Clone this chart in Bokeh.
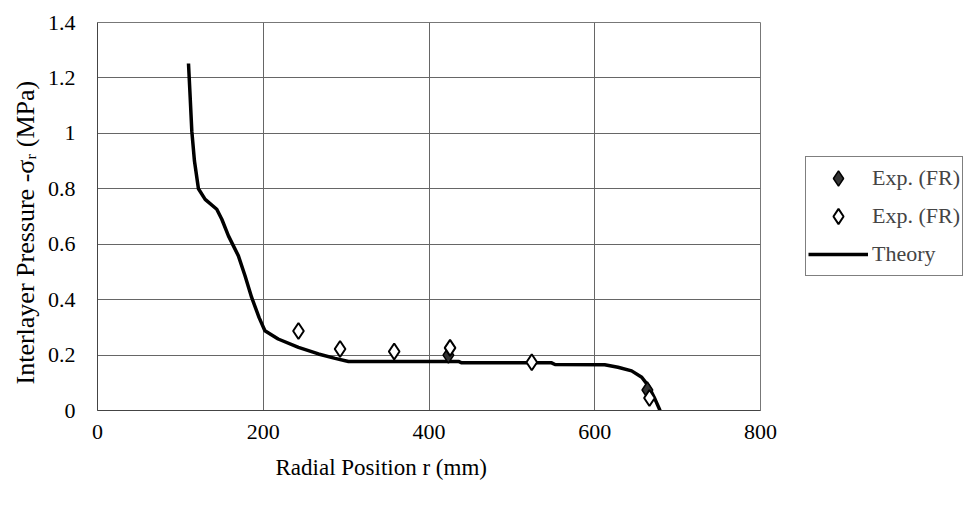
from bokeh.plotting import figure
from bokeh.models import Legend, LegendItem, FixedTicker, Range1d, Title
from bokeh.embed import file_html
from bokeh.resources import INLINE

# Theory curve
theory_r = [109.8, 111.5, 113.8, 117.0, 121.8, 129.9, 143.9, 150.0, 158.0, 164.0, 170.0, 178.0, 186.0,
            195.0, 202.0, 218.0, 242.5, 266.6, 286.7, 302.8, 380.0, 435.5, 439.5, 460.0, 548.0, 552.0,
            612.0, 628.0, 644.5, 656.7, 664.7, 672.7, 678.8]
theory_p = [1.252, 1.15, 1.008, 0.90, 0.80, 0.762, 0.726, 0.69, 0.63, 0.594, 0.558, 0.486, 0.408,
            0.335, 0.288, 0.258, 0.228, 0.204, 0.188, 0.177, 0.177, 0.177, 0.172, 0.172, 0.172, 0.166,
            0.165, 0.156, 0.143, 0.12, 0.089, 0.041, 0.0]

# Exp. (FR) filled
exp1_r = [423.4, 663.5]
exp1_p = [0.200, 0.074]

# Exp. (FR) hollow
exp2_r = [242.5, 292.7, 358.0, 425.4, 524.0, 666.0]
exp2_p = [0.287, 0.222, 0.213, 0.226, 0.174, 0.045]

x_ticks = [0, 200, 400, 600, 800]
y_ticks = [0, 0.2, 0.4, 0.6, 0.8, 1.0, 1.2, 1.4]
y_tick_labels = ["0", "0.2", "0.4", "0.6", "0.8", "1", "1.2", "1.4"]

FONT = "Liberation Serif"

p = figure(frame_width=663, frame_height=388, output_backend="svg", toolbar_location=None,
           x_range=Range1d(0, 800), y_range=Range1d(0, 1.4),
           min_border_left=97, min_border_right=10, min_border_top=22, min_border_bottom=80)

p.outline_line_color = "#777777"
p.background_fill_color = "white"
p.border_fill_color = "white"

for g in (p.xgrid[0], p.ygrid[0]):
    g.grid_line_color = "#666666"
    g.grid_line_width = 1

p.xaxis.ticker = FixedTicker(ticks=x_ticks)
p.yaxis.ticker = FixedTicker(ticks=y_ticks)
p.yaxis.major_label_overrides = {t: l for t, l in zip(y_ticks, y_tick_labels)}

for ax in (p.xaxis[0], p.yaxis[0]):
    ax.major_tick_out = 0
    ax.major_tick_in = 0
    ax.minor_tick_out = 0
    ax.minor_tick_in = 0
    ax.axis_line_color = "#444444"
    ax.major_label_text_font = FONT
    ax.major_label_text_font_size = "22px"
    ax.major_label_text_color = "black"

p.xaxis.major_label_standoff = 14
p.yaxis.major_label_standoff = 22

xt = Title(text="Radial Position r (mm)", align="left", offset=178, standoff=22,
           text_font=FONT, text_font_size="23px", text_font_style="normal", text_color="black")
p.add_layout(xt, "below")
yt = Title(text="Interlayer Pressure -σᵣ (MPa)", align="left", offset=26, standoff=10,
           text_font=FONT, text_font_size="26px", text_font_style="normal", text_color="black")
p.add_layout(yt, "left")

r_theory = p.line(theory_r, theory_p, line_color="black", line_width=3.5)
r_exp1 = p.scatter(exp1_r, exp1_p, marker="diamond", size=16, fill_color="#333333",
                   line_color="black", line_width=1.5)
r_exp2 = p.scatter(exp2_r, exp2_p, marker="diamond", size=16, fill_color="white",
                   line_color="black", line_width=2)

legend = Legend(items=[
    LegendItem(label="Exp. (FR)", renderers=[r_exp1]),
    LegendItem(label="Exp. (FR)", renderers=[r_exp2]),
    LegendItem(label="Theory", renderers=[r_theory]),
], location=(45, 134))
legend.label_text_font = FONT
legend.label_text_font_size = "22px"
legend.glyph_width = 60
legend.glyph_height = 38
legend.label_height = 38
legend.spacing = 0
legend.padding = 2
legend.margin = 0
legend.label_standoff = 4
legend.border_line_color = "black"
legend.border_line_width = 1
legend.background_fill_alpha = 1
p.add_layout(legend, "right")

open("out.html", "w").write(file_html(p, INLINE))
